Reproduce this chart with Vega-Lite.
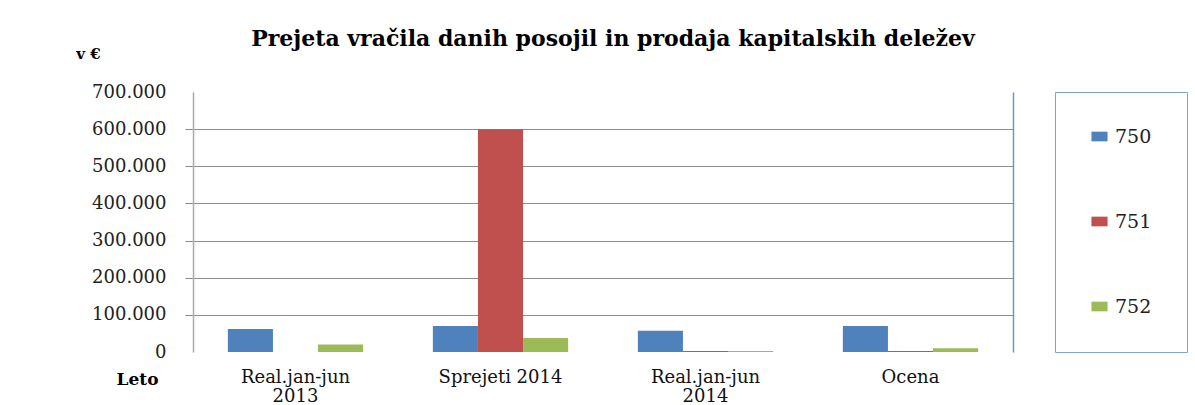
{
  "$schema": "https://vega.github.io/schema/vega-lite/v6.json",
  "width": 820,
  "height": 260,
  "autosize": "none",
  "padding": {"left": 193, "top": 92, "right": 182, "bottom": 53},
  "background": "white",
  "config": {
    "locale": {"number": {"decimal": ",", "thousands": ".", "grouping": [3], "currency": ["", " €"]}},
    "view": {"stroke": null},
    "font": "DejaVu Serif"
  },
  "title": {
    "text": "Prejeta vračila danih posojil in prodaja kapitalskih deležev",
    "font": "DejaVu Serif",
    "fontSize": 22,
    "fontWeight": "bold",
    "color": "#000000",
    "anchor": "middle",
    "frame": "group",
    "offset": -5,
    "dx": 10
  },
  "data": {
    "values": [
      {"obdobje": "Real.jan-jun 2013", "konto": "750", "znesek": 62000},
      {"obdobje": "Real.jan-jun 2013", "konto": "751", "znesek": 0},
      {"obdobje": "Real.jan-jun 2013", "konto": "752", "znesek": 20000},
      {"obdobje": "Sprejeti 2014", "konto": "750", "znesek": 70000},
      {"obdobje": "Sprejeti 2014", "konto": "751", "znesek": 600000},
      {"obdobje": "Sprejeti 2014", "konto": "752", "znesek": 38000},
      {"obdobje": "Real.jan-jun 2014", "konto": "750", "znesek": 57000},
      {"obdobje": "Real.jan-jun 2014", "konto": "751", "znesek": 3000},
      {"obdobje": "Real.jan-jun 2014", "konto": "752", "znesek": 2500},
      {"obdobje": "Ocena", "konto": "750", "znesek": 70000},
      {"obdobje": "Ocena", "konto": "751", "znesek": 3000},
      {"obdobje": "Ocena", "konto": "752", "znesek": 10000}
    ]
  },
  "encoding": {
    "x": {
      "field": "obdobje",
      "type": "nominal",
      "sort": null,
      "scale": {"paddingInner": 0.34, "paddingOuter": 0.17},
      "axis": {
        "title": "Leto",
        "titleFont": "DejaVu Serif",
        "titleFontSize": 17,
        "titleFontWeight": "bold",
        "titleColor": "#000000",
        "titleX": -56,
        "titleY": 27,
        "titleAlign": "center",
        "titleBaseline": "middle",
        "labelAngle": 0,
        "labelFontSize": 18,
        "labelColor": "#111111",
        "labelPadding": 16,
        "labelLineHeight": 19,
        "labelExpr": "datum.label == 'Sprejeti 2014' || datum.label == 'Ocena' ? datum.label : split(datum.label, ' ')",
        "domain": false,
        "ticks": false
      }
    },
    "y": {
      "field": "znesek",
      "type": "quantitative",
      "scale": {"domain": [0, 700000], "nice": false},
      "axis": {
        "title": "v €",
        "titleFont": "DejaVu Serif",
        "titleFontSize": 15,
        "titleFontWeight": "bold",
        "titleColor": "#000000",
        "titleAngle": 0,
        "titleX": -105,
        "titleY": -39,
        "titleAlign": "center",
        "titleBaseline": "middle",
        "values": [0, 100000, 200000, 300000, 400000, 500000, 600000, 700000],
        "format": ",d",
        "labelFontSize": 18,
        "labelColor": "#222222",
        "labelPadding": 19,
        "tickSize": 8,
        "tickColor": "#888888",
        "tickOpacity": {"condition": {"test": "datum.value == 0 || datum.value == 700000", "value": 0}, "value": 1},
        "domainColor": "#aaaaaa",
        "domainWidth": 1.5,
        "grid": true,
        "gridColor": "#8c8c8c",
        "gridOpacity": {"condition": {"test": "datum.value == 0 || datum.value == 700000", "value": 0}, "value": 1}
      }
    }
  },
  "layer": [
    {
      "mark": {"type": "bar"},
      "encoding": {
        "xOffset": {"field": "konto", "type": "nominal"},
        "color": {
          "field": "konto",
          "type": "nominal",
          "scale": {"domain": ["750", "751", "752"], "range": ["#4F81BD", "#C0504D", "#9BBB59"]},
          "legend": {
            "title": null,
            "orient": "none",
            "legendX": 862,
            "legendY": 0,
            "strokeColor": "#7ea2d3",
            "padding": 35,
            "rowPadding": 65,
            "symbolType": "M-1,-0.6H1V0.6H-1Z",
            "symbolSize": 260,
            "symbolStrokeWidth": 0,
            "labelFont": "DejaVu Serif",
            "labelFontSize": 19,
            "labelColor": "#222222",
            "labelOffset": 6
          }
        }
      }
    },
    {
      "mark": {"type": "bar", "opacity": 0},
      "encoding": {
        "xOffset": {"field": "konto", "type": "nominal"},
        "y": {
          "field": "znesek",
          "type": "quantitative",
          "axis": {
            "orient": "right",
            "title": null,
            "labels": false,
            "ticks": false,
            "grid": false,
            "domainColor": "#6f96cc",
            "domainWidth": 1.5
          }
        }
      }
    }
  ],
  "resolve": {"axis": {"y": "independent"}}
}
